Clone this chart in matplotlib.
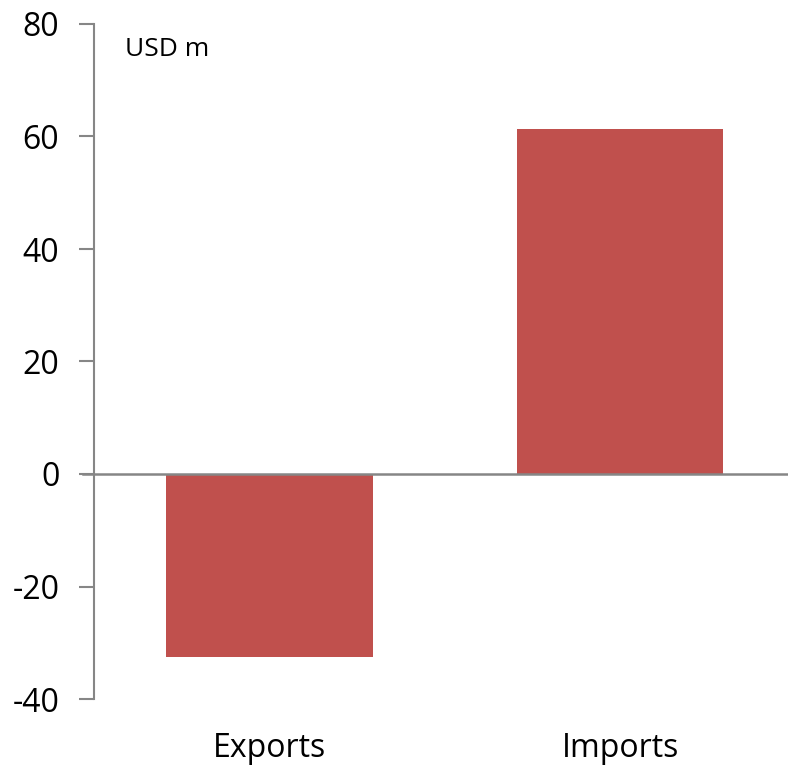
import matplotlib
matplotlib.use("Agg")
import matplotlib.pyplot as plt

categories = ["Exports", "Imports"]
values = [-32.5, 61.3]
y_ticks = [-40, -20, 0, 20, 40, 60, 80]

bar_color = "#C0504D"
axis_color = "#868686"

plt.rcParams["font.family"] = ["Open Sans", "DejaVu Sans"]

fig = plt.figure(figsize=(7.88, 7.66), dpi=100)
ax = fig.add_axes([94 / 788, 1 - 699 / 766, 1 - 94 / 788, (699 - 24) / 766])

x = list(range(len(categories)))
ax.bar(x, values, width=0.59, color=bar_color, zorder=2)

ax.set_ylim(-40, 80)
ax.set_xlim(-0.5007, 1.479)
ax.set_yticks(y_ticks)
ax.set_yticklabels([str(t) for t in y_ticks], fontsize=23)
ax.tick_params(axis="y", direction="out", length=11, width=1.5, color=axis_color, pad=14)

ax.set_xticks(x)
ax.set_xticklabels(categories, fontsize=23)
ax.tick_params(axis="x", length=0, pad=24)

for side in ("top", "right", "bottom"):
    ax.spines[side].set_visible(False)
ax.spines["left"].set_color(axis_color)
ax.spines["left"].set_linewidth(1.5)

# zero line extending out past the axis like the tick marks
ax.axhline(0, xmin=-11 / 694, xmax=1, color=axis_color, linewidth=1.8, clip_on=False, zorder=3)

ax.text(125 / 788, 1 - 50 / 766, "USD m", transform=fig.transFigure,
        fontsize=19, va="center", ha="left")

fig.savefig("out.png", dpi=100, facecolor="white")
